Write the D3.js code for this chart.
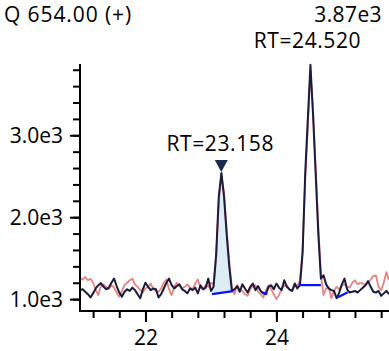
<!DOCTYPE html>
<html><head><meta charset="utf-8">
<script src="https://cdn.jsdelivr.net/npm/d3@7"></script>
<style>
html,body{margin:0;padding:0;background:#fff;}
svg{display:block;font-family:"Open Sans","Noto Sans",sans-serif;}
</style></head><body>
<svg id="c" width="389" height="351"></svg>
<script>
// retention time grid (min)
const tStart = 21.0, tStep = 0.04;
// sample trace (dark)
const sampleValues = [1110,1120,1090,1060,1020,1070,1130,1170,1195,1150,
1120,1140,1200,1250,1160,1080,1030,1090,1120,1100,
1140,1110,1060,1010,1120,1200,1150,1110,1130,1120,
1020,1060,1130,1200,1250,1170,1130,1160,1180,1120,
1100,1070,1130,1110,1140,1070,1170,1120,1140,1250,
1100,1150,1550,2250,2540,2250,1800,1400,1100,1120,
1160,1090,1180,1130,1080,1150,1190,1110,1160,1100,
1070,1060,1150,1170,1120,1190,1140,1110,1230,1150,
1120,1100,1190,1130,1170,1560,2530,3200,3860,3250,
2530,1800,1250,1290,1180,1130,1110,1100,1010,1080,
1180,1250,1120,1080,1090,1100,1080,1110,1140,1170,
1220,1150,1090,1080,1100,1040,1070,1100,1060];
// reference trace (red)
const referenceValues = [1260,1240,1270,1230,1250,1200,1110,1050,1160,1180,
1150,1120,1170,1140,1080,1030,1100,1170,1200,1230,
1250,1180,1150,1110,1080,1130,1150,1190,1120,1100,
1090,1130,1200,1240,1120,1050,1150,1200,1160,1130,
1150,1180,1140,1120,1190,1240,1140,1120,1170,1150,
1200,1180,1500,2200,2510,2300,1850,1450,1150,1060,
1170,1120,1100,1060,1040,1120,1160,1170,1090,1060,
1020,1110,1170,1120,1060,1000,1050,1130,1160,1170,
1110,1100,1160,1170,1220,1600,2450,3100,3780,3300,
2600,1900,1300,1050,1130,1140,1010,1100,1150,1120,
1170,1180,1150,1140,1200,1230,1180,1200,1190,1170,
1200,1240,1280,1290,1150,1110,1200,1330,1230];
// integration baselines [t0, v0, t1, v1]
const baselines = [
  [23.015, 1061, 23.336, 1098],
  [23.78, 1085, 23.86, 1061],
  [24.34, 1171, 24.68, 1171],
  [24.94, 1024, 25.09, 1085]
];
const filledPeak = 0; // index into baselines
const peakLabels = [
  {rt: 23.158, text: "RT=23.158", marker: true},
  {rt: 24.520, text: "RT=24.520", marker: false}
];
const yMajorTicks = [1000, 2000, 3000];
const yMinorTicks = [1000,1200,1400,1600,1800,2000,2200,2400,2600,2800,3000,3200,3400,3600,3800];
const xMinorTicks = [21.2,21.6,22.0,22.4,22.8,23.2,23.6,24.0,24.4,24.8,25.2,25.6];
const xMajorTicks = [22, 24];
const titleText = "Q 654.00 (+)";
const maxText = "3.87e3";

const svg = d3.select("#c");
const x = d3.scaleLinear().domain([21.0, 25.72]).range([80, 389]);
const y = d3.scaleLinear().domain([855, 3870]).range([311, 64]);

const sample = sampleValues.map((v,i)=>({t: tStart + i*tStep, v}));
const ref = referenceValues.map((v,i)=>({t: tStart + i*tStep, v}));

const FS = 21;

// filled peak area
{
  const [t0,v0,t1,v1] = baselines[filledPeak];
  const base = t => v0 + (v1-v0)*(t-t0)/(t1-t0);
  const interp = t => {
    const i = Math.floor((t - tStart)/tStep);
    const a = sample[i], b = sample[i+1];
    return a.v + (b.v - a.v)*(t - a.t)/tStep;
  };
  const pts = [{t:t0, v:Math.max(interp(t0), base(t0))}];
  sample.forEach(d=>{ if (d.t > t0 && d.t < t1) pts.push({t:d.t, v:Math.max(d.v, base(d.t))}); });
  pts.push({t:t1, v:Math.max(interp(t1), base(t1))});
  svg.append("path").datum(pts)
    .attr("d", d3.area().x(d=>x(d.t)).y0(d=>y(base(d.t))).y1(d=>y(d.v)))
    .attr("fill", "#dcedf4").attr("stroke", "none");
}

const clip = svg.append("clipPath").attr("id","pc").append("rect")
  .attr("x", 81).attr("y", 40).attr("width", 320).attr("height", 270);

const line = d3.line().x(d=>x(d.t)).y(d=>y(d.v));
svg.append("path").datum(ref).attr("d", line)
  .attr("fill","none").attr("stroke","#e8837f").attr("stroke-width",1.8)
  .attr("stroke-linejoin","round").attr("clip-path","url(#pc)");
svg.append("path").datum(sample).attr("d", line)
  .attr("fill","none").attr("stroke","#1b1b3d").attr("stroke-width",2)
  .attr("stroke-linejoin","round").attr("clip-path","url(#pc)");

// baselines
svg.selectAll("line.bl").data(baselines).enter().append("line")
  .attr("x1", d=>x(d[0])).attr("y1", d=>y(d[1]))
  .attr("x2", d=>x(d[2])).attr("y2", d=>y(d[3]))
  .attr("stroke","#0a14f0").attr("stroke-width",2.2);

// axes
const yMinor = svg.append("g").attr("transform","translate(80,0)")
  .call(d3.axisLeft(y).tickValues(yMinorTicks).tickSize(7).tickSizeOuter(0).tickFormat(""));
const yMajor = svg.append("g").attr("transform","translate(80,0)")
  .call(d3.axisLeft(y).tickValues(yMajorTicks).tickSize(10).tickSizeOuter(0).tickPadding(7)
    .tickFormat(d=>(d/1000).toFixed(1)+"e3"));
const xMinor = svg.append("g").attr("transform","translate(0,311)")
  .call(d3.axisBottom(x).tickValues(xMinorTicks).tickSize(7).tickSizeOuter(0).tickFormat(""));
const xMajor = svg.append("g").attr("transform","translate(0,311)")
  .call(d3.axisBottom(x).tickValues(xMajorTicks).tickSize(11).tickSizeOuter(0).tickPadding(8)
    .tickFormat(d=>String(d)));
[yMinor,yMajor,xMinor,xMajor].forEach(g=>{
  g.selectAll("path.domain").attr("stroke","#000").attr("stroke-width",2);
  g.selectAll(".tick line").attr("stroke","#000").attr("stroke-width",2);
  g.selectAll(".tick text").attr("fill","#000").style("font-size",FS+"px")
    .style("font-family",'"Open Sans","Noto Sans",sans-serif');
});
yMajor.selectAll(".tick text").attr("dy","0.36em");
[yMajor, yMinor].forEach(g=>g.select("path.domain").attr("d","M0,64V312"));
[xMajor, xMinor].forEach(g=>g.select("path.domain").attr("d","M79,0H389"));

// titles
svg.append("text").attr("x",4).attr("y",22).attr("font-size",FS).attr("letter-spacing","0.9px").attr("fill","#000").text(titleText);
svg.append("text").attr("x",382).attr("y",22).attr("text-anchor","end").attr("font-size",FS).attr("letter-spacing","0.4px").attr("fill","#000").text(maxText);

// peak labels
peakLabels.forEach(p=>{
  const i = Math.round((p.rt - tStart)/tStep);
  const apexY = y(sampleValues[i]);
  const cx = x(p.rt);
  if (p.marker) {
    svg.append("path")
      .attr("d", `M${cx-6.5},${apexY-13}L${cx+6.5},${apexY-13}L${cx},${apexY-1}Z`)
      .attr("fill","#1b2a50");
    svg.append("text").attr("x",cx-1).attr("y",apexY-22).attr("text-anchor","middle")
      .attr("font-size",FS).attr("letter-spacing","0.6px").attr("fill","#000").text(p.text);
  } else {
    svg.append("text").attr("x",cx-3).attr("y",48).attr("text-anchor","middle")
      .attr("font-size",FS).attr("letter-spacing","0.6px").attr("fill","#000").text(p.text);
  }
});
</script>
</body></html>
